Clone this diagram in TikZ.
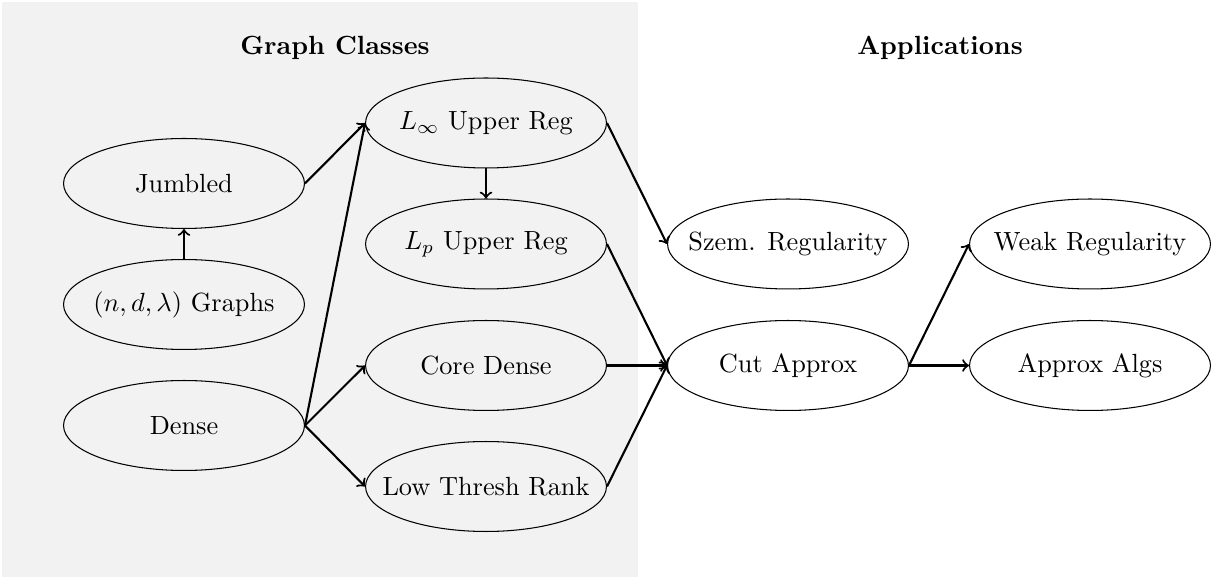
\documentclass[tikz,border=0pt]{standalone}
\usetikzlibrary{shapes.geometric}
\begin{document}
\begin{tikzpicture}[x=0.3802pt,y=-0.3802pt,
  cls/.style={ellipse,draw,thin,minimum width=91.6pt,minimum height=34.2pt,inner xsep=-10pt,inner ysep=0pt},
  hd/.style={font=\bfseries},
  conn/.style={->,thick}]
\useasboundingbox (0,0) rectangle (1213,580);
\fill[gray!10] (2,2) rectangle (638,577);
\node[hd] (h1) at (335,48) {Graph Classes};
\node[hd] (h2) at (940,48) {Applications};
\node[cls] (jum) at (184,183.5) {Jumbled};
\node[cls] (ndl) at (184,304.5) {$(n,d,\lambda)$ Graphs};
\node[cls] (den) at (184,425.5) {Dense};
\node[cls] (linf) at (486,123) {$L_\infty$ Upper Reg};
\node[cls] (lp) at (486,244) {$L_p$ Upper Reg};
\node[cls] (core) at (486,365.5) {Core Dense};
\node[cls] (low) at (486,486.5) {Low Thresh Rank};
\node[cls] (szem) at (788,244) {Szem. Regularity};
\node[cls] (cut) at (788,365.5) {Cut Approx};
\node[cls] (weak) at (1090,244) {Weak Regularity};
\node[cls] (alg) at (1090,365.5) {Approx Algs};
\draw[conn] (ndl.north) -- (jum.south);
\draw[conn] (jum.east) -- (linf.west);
\draw[conn] (den.east) -- (linf.west);
\draw[conn] (den.east) -- (core.west);
\draw[conn] (den.east) -- (low.west);
\draw[conn] (linf.south) -- (lp.north);
\draw[conn] (linf.east) -- (szem.west);
\draw[conn] (lp.east) -- (cut.west);
\draw[conn] (core.east) -- (cut.west);
\draw[conn] (low.east) -- (cut.west);
\draw[conn] (cut.east) -- (weak.west);
\draw[conn] (cut.east) -- (alg.west);
\end{tikzpicture}
\end{document}
